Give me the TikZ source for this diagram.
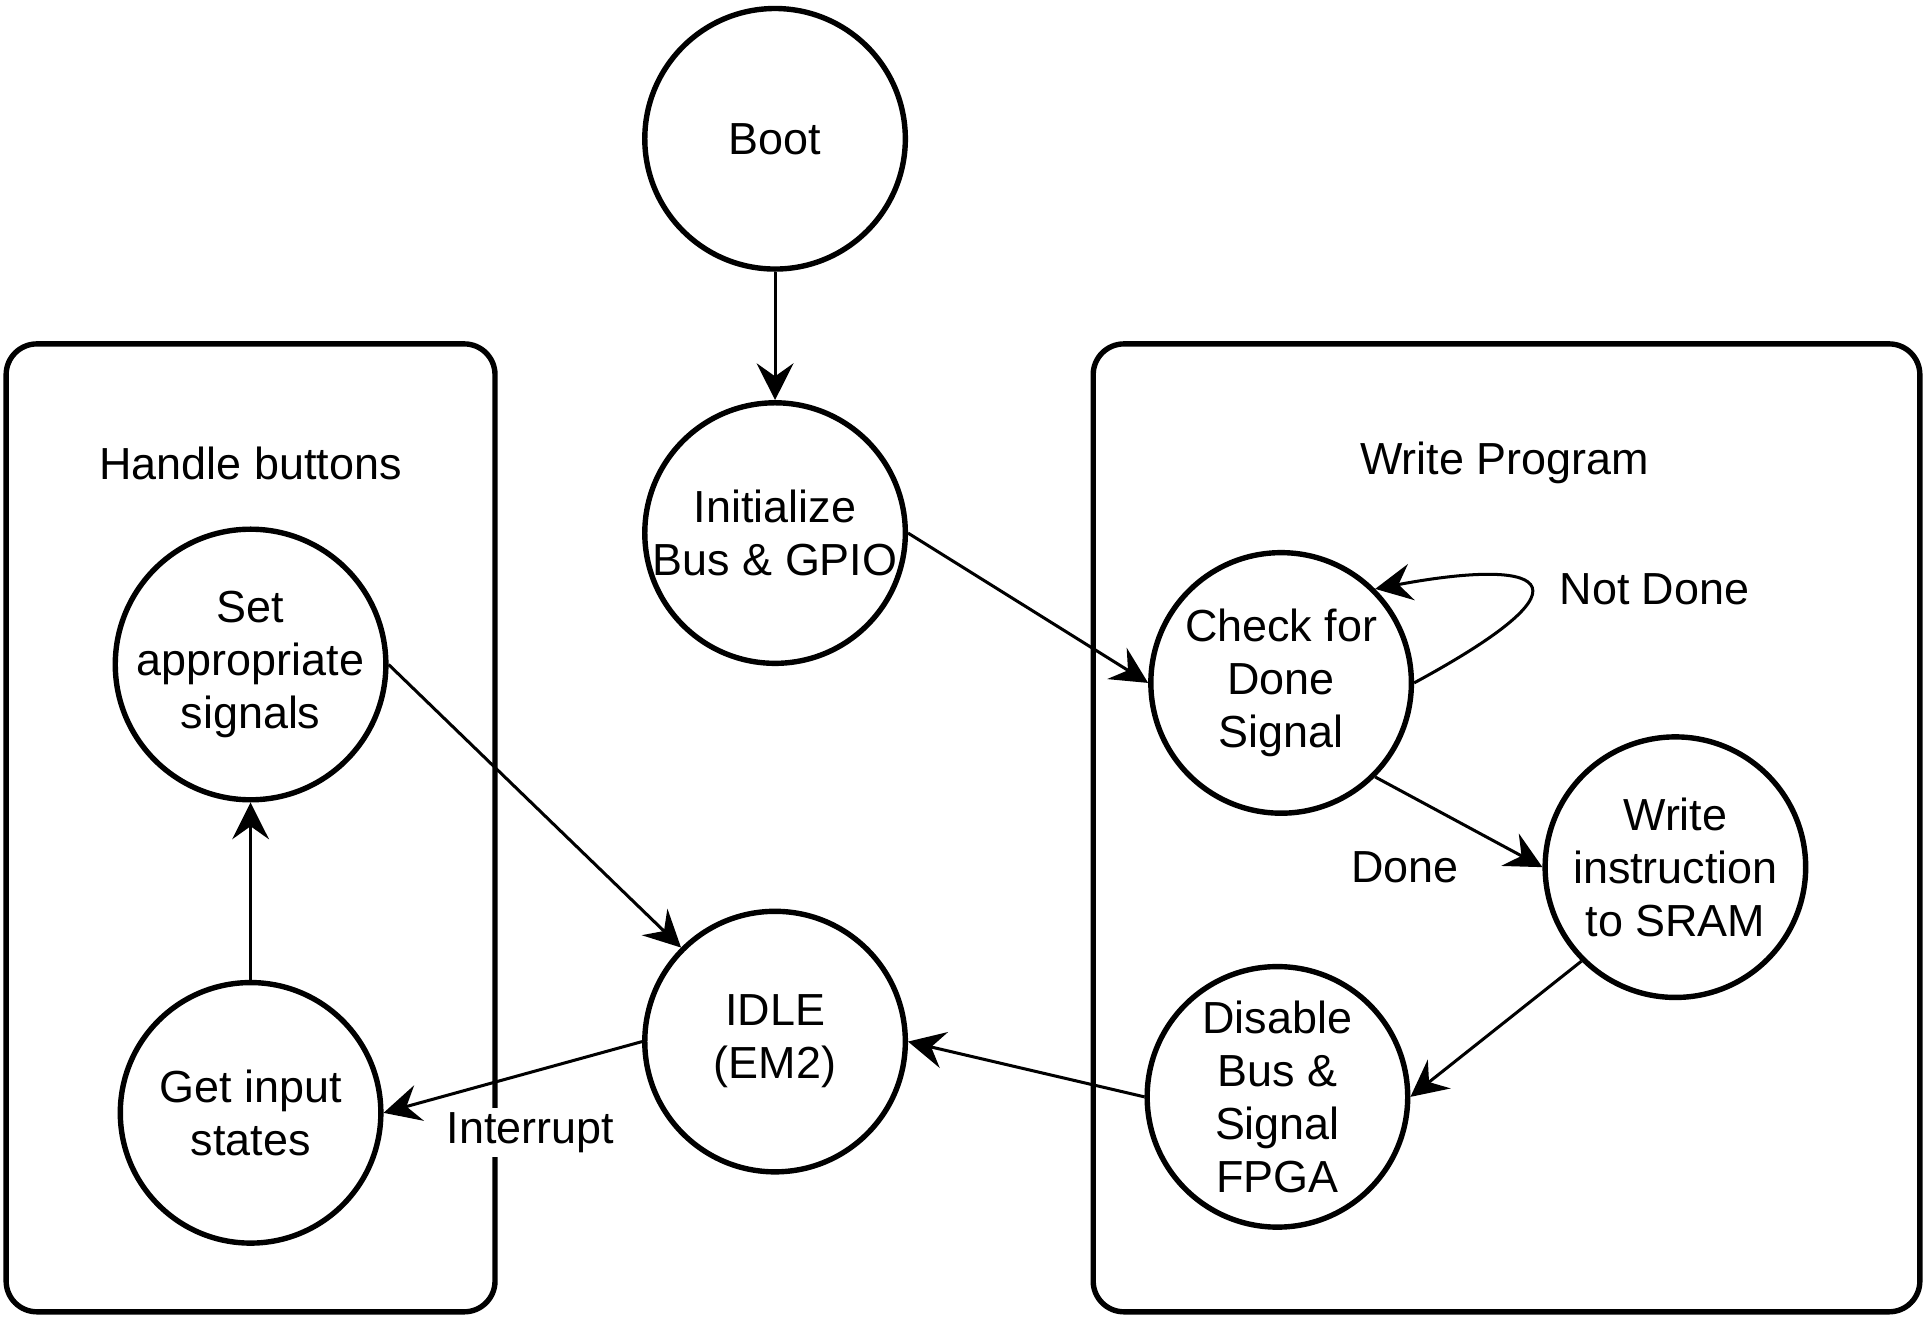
\documentclass[tikz,border=0pt]{standalone}
\usepackage{fontspec}
\setmainfont{Liberation Sans}
\usepackage{tikz}
\usetikzlibrary{arrows.meta}
\newcommand{\statefont}{\fontsize{10.4}{12.3}\selectfont}
\tikzstyle{state} = [circle, draw, line width=1.25pt, minimum size=2.12cm, inner sep=0pt, align=center, font=\statefont]
\tikzstyle{group} = [line width=1.25pt, rounded corners=0.25cm]
\tikzstyle{link} = [line width=0.7pt, -{Stealth[length=8.5pt, width=8.5pt, inset=3pt]}]
\tikzstyle{lbl} = [font=\statefont, inner sep=1pt]

\begin{document}
\begin{tikzpicture}[x=0.01cm, y=-0.01cm]
\useasboundingbox (0,0) rectangle (1568,1074);
% groups
\draw[group] (5,280) rectangle (403,1068);
\draw[group] (890,280) rectangle (1563,1068);
\node[lbl] (handle) at (204,377) {Handle buttons};
\node[lbl] (write) at (1225,377) {Write Program};

% states
\node[state] (boot) at (631,113) {Boot};
\node[state] (init) at (631,434) {Initialize\\Bus \& GPIO};
\node[state] (idle) at (631,848) {IDLE\\(EM2)};
\node[state] (set) at (204,541) {Set\\appropriate\\signals};
\node[state] (get) at (204,906) {Get input\\states};
\node[state] (check) at (1043,556) {Check for\\Done\\Signal};
\node[state] (instr) at (1364,706) {Write\\instruction\\to SRAM};
\node[state] (disable) at (1040,893) {Disable\\Bus \&\\Signal\\FPGA};

% labels
\node[lbl] (notdone) at (1347,480) {Not Done};
\node[lbl] (done) at (1144,706) {Done};
\node[lbl, fill=white] (interrupt) at (432,922) {Interrupt};

% transitions
\draw[link] (boot.south) -- (init.north);
\draw[link] (init.east) -- (check.west);
\draw[link] (check.east) .. controls (1310,470) and (1250,455) .. (check.north east);
\draw[link] (check.south east) -- (instr.west);
\draw[link] (instr.south west) -- (disable.east);
\draw[link] (disable.west) -- (idle.east);
\draw[link] (idle.west) -- (get.east);
\draw[link] (get.north) -- (set.south);
\draw[link] (set.east) -- (idle.north west);
\end{tikzpicture}
\end{document}
